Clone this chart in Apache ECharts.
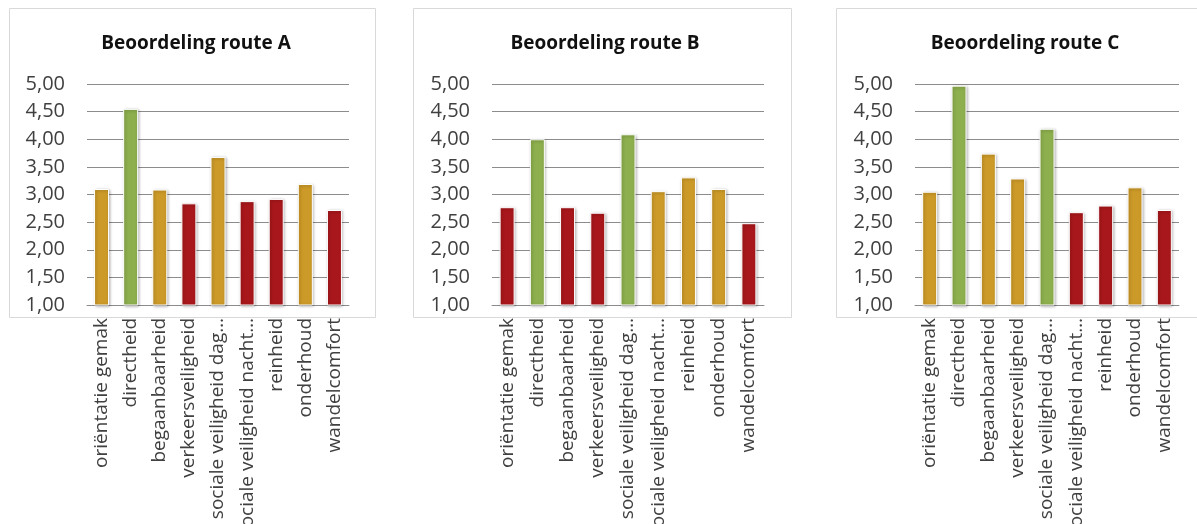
<!DOCTYPE html>
<html>
<head>
<meta charset="utf-8">
<script src="https://cdn.jsdelivr.net/npm/echarts@6/dist/echarts.min.js"></script>
<style>
  html, body { margin: 0; padding: 0; background: #fff; }
  #main { width: 1197px; height: 524px; }
</style>
</head>
<body>
<div id="main"></div>
<script>
// categorieën op de x-as
var categories = ['oriëntatie gemak', 'directheid', 'begaanbaarheid', 'verkeersveiligheid',
  'sociale veiligheid dag…', 'sociale veiligheid nacht…', 'reinheid', 'onderhoud', 'wandelcomfort'];

var titles = ['Beoordeling route A', 'Beoordeling route B', 'Beoordeling route C'];

// gemiddelde scores per route
var routeA = [3.10, 4.55, 3.09, 2.84, 3.68, 2.88, 2.92, 3.19, 2.72];
var routeB = [2.77, 4.00, 2.77, 2.67, 4.09, 3.06, 3.31, 3.10, 2.48];
var routeC = [3.05, 4.97, 3.74, 3.29, 4.19, 2.68, 2.80, 3.13, 2.72];

// oordeel per balk: g = goed, m = matig, s = slecht
var gradeA = ['m', 'g', 'm', 's', 'm', 's', 's', 'm', 's'];
var gradeB = ['s', 'g', 's', 's', 'g', 'm', 'm', 'm', 's'];
var gradeC = ['m', 'g', 'm', 'm', 'g', 's', 's', 'm', 's'];

var gradeColor = { g: '#8DAF4D', m: '#CC9A28', s: '#A8171B' };

// layout per paneel
var panels = [
  { box: [9, 8, 375, 317], grid: [87, 349], title: 191 },
  { box: [413, 8, 791, 317], grid: [492, 764], title: 600 },
  { box: [836, 8, 1210, 317], grid: [915, 1179], title: 1020 }
];
var allData = [routeA, routeB, routeC];
var allGrades = [gradeA, gradeB, gradeC];

var chart = echarts.init(document.getElementById('main'));
var option = {
  animation: false,
  title: [],
  grid: [],
  xAxis: [],
  yAxis: [],
  series: [],
  graphic: []
};

panels.forEach(function (p, i) {
  option.graphic.push({
    type: 'rect',
    shape: { x: p.box[0] + 0.5, y: p.box[1] + 0.5, width: p.box[2] - p.box[0], height: p.box[3] - p.box[1] },
    style: { fill: 'none', stroke: '#D9D9D9', lineWidth: 1 },
    z: 0
  });
  option.title.push({
    text: titles[i],
    left: p.title,
    top: 29,
    textAlign: 'center',
    textStyle: { fontFamily: 'Open Sans', fontWeight: 'bold', fontSize: 19, color: '#111' }
  });
  option.grid.push({
    left: p.grid[0],
    width: p.grid[1] - p.grid[0],
    top: 84,
    height: 221,
    containLabel: false,
    outerBoundsMode: 'none'
  });
  option.xAxis.push({
    type: 'category',
    gridIndex: i,
    data: categories,
    axisTick: { show: false },
    axisLine: { lineStyle: { color: '#8C8C8C', width: 1 } },
    axisLabel: {
      rotate: 90,
      margin: 13,
      interval: 0,
      fontFamily: 'Open Sans',
      fontSize: 19,
      color: '#404040'
    }
  });
  option.yAxis.push({
    type: 'value',
    gridIndex: i,
    min: 1,
    max: 5,
    interval: 0.5,
    axisLine: { show: false },
    axisTick: { show: false },
    splitLine: { lineStyle: { color: '#8C8C8C', width: 1 } },
    axisLabel: {
      margin: 22,
      fontFamily: 'Open Sans',
      fontSize: 20,
      color: '#404040',
      formatter: function (v) { return v.toFixed(2).replace('.', ','); }
    }
  });
  option.series.push({
    type: 'bar',
    xAxisIndex: i,
    yAxisIndex: i,
    barWidth: 15,
    data: allData[i].map(function (v, k) {
      return {
        value: v,
        itemStyle: { color: gradeColor[allGrades[i][k]] }
      };
    }),
    itemStyle: {
      borderColor: '#ffffff',
      borderWidth: 1,
      shadowColor: 'rgba(0,0,0,0.3)',
      shadowBlur: 3,
      shadowOffsetX: 1,
      shadowOffsetY: 1
    }
  });
});

chart.setOption(option);
</script>
</body>
</html>
